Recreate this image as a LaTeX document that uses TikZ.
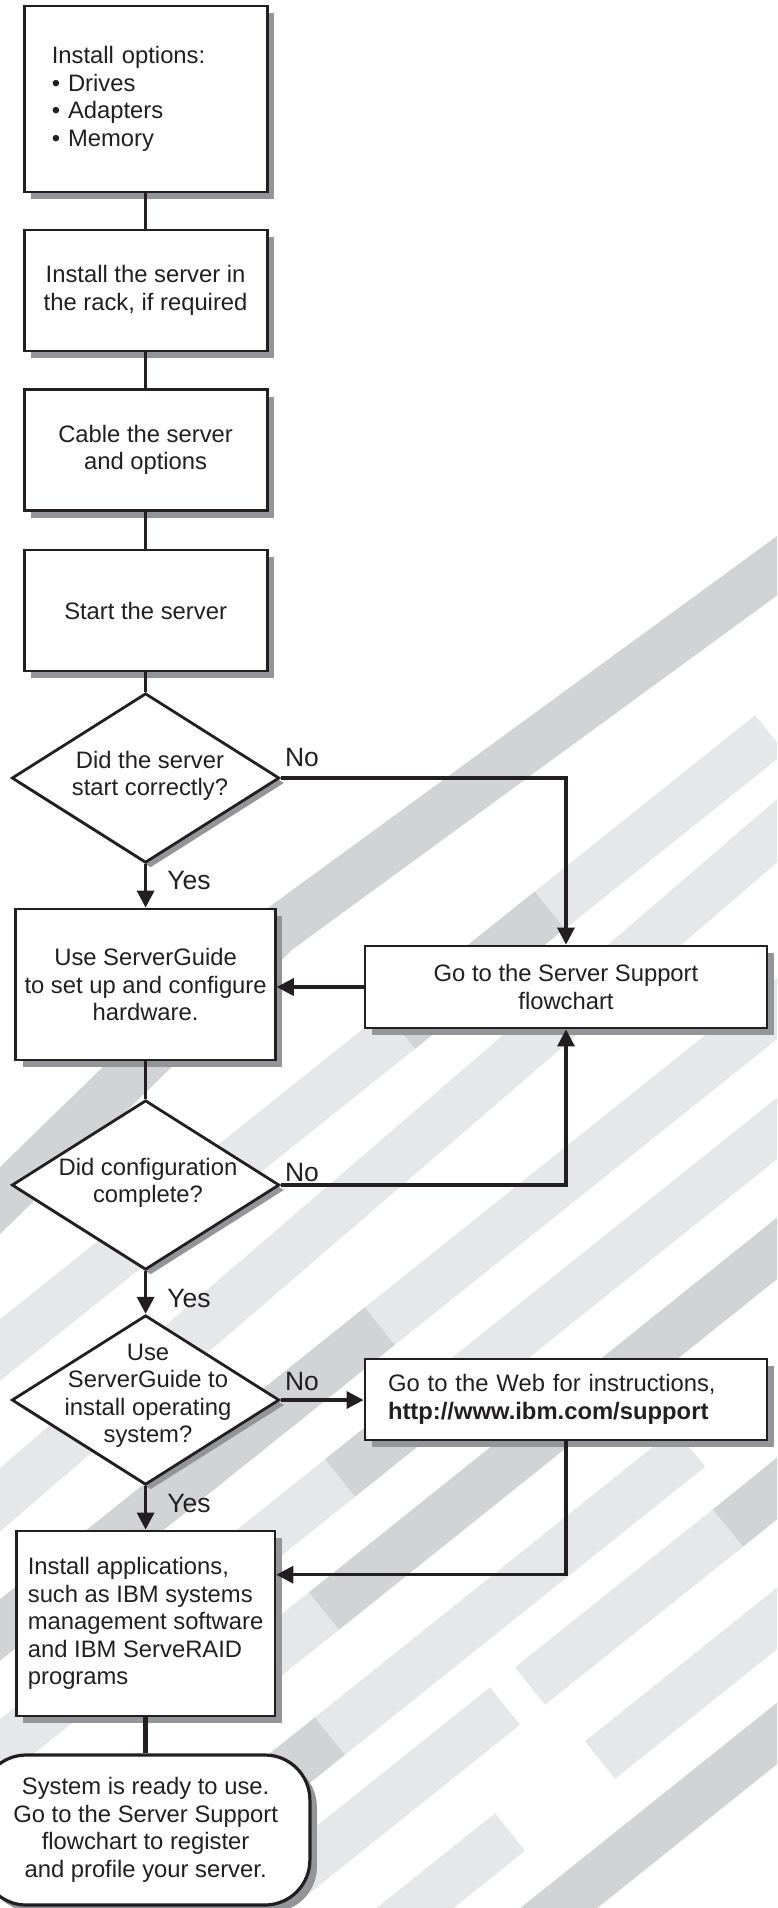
\documentclass[tikz,border=0pt]{standalone}
\usepackage{fontspec}
\setmainfont{Liberation Sans}
\usetikzlibrary{arrows.meta,shapes.geometric}
\definecolor{lg}{HTML}{E6E7E8}
\definecolor{mg}{HTML}{D1D3D4}
\definecolor{shc}{HTML}{939598}
\definecolor{ink}{HTML}{231F20}
\begin{document}
\begin{tikzpicture}[x=1pt,y=-1pt,
  every node/.style={text=ink, font=\fontsize{23.8}{27.5}\selectfont},
  sh/.style={preaction={fill=shc, transform canvas={xshift=7pt,yshift=-7pt}}},
  dsh/.style={preaction={fill=shc, transform canvas={xshift=5pt,yshift=-5pt}}},
  stepbox/.style={rectangle, draw=ink, line width=2.8pt, fill=white, sh, inner sep=0pt, align=center},
  dia/.style={diamond, draw=ink, line width=2.8pt, fill=white, dsh, inner sep=0pt, minimum width=267.6pt, minimum height=169.5pt},
  lbl/.style={inner sep=0pt, align=center},
  yn/.style={inner sep=0pt, font=\fontsize{26.5}{30}\selectfont},
  conn/.style={draw=ink, line width=3.3pt},
  arr/.style={conn, -{Triangle[length=17pt,width=17pt]}},
  band/.style={line width=48pt, line cap=butt, line join=miter}]
\useasboundingbox (0,0) rectangle (777,1908);
% background stripes
\begin{scope}
\clip (0,0) rectangle (777,1908);
\draw[band, mg] (800,549) -- (277,931) -- (-20,1220);
\draw[band, lg] (-20,1366) -- (400,1030);
\draw[band, mg] (400,1030) -- (550,910);
\draw[band, lg] (550,910) -- (770,734);
\draw[band, lg] (800,811) -- (-20,1517);
\draw[band, mg] (-20,1646) -- (380,1326);
\draw[band, lg] (380,1326) -- (800,990);
\draw[band, lg] (-20,1766) -- (340,1478);
\draw[band, mg] (340,1478) -- (440,1398);
\draw[band, lg] (440,1398) -- (800,1110);
\draw[band, lg] (250,1670) -- (324,1611);
\draw[band, mg] (324,1611) -- (800,1230);
\draw[band, mg] (150,1880) -- (330,1736);
\draw[band, lg] (330,1736) -- (690,1448);
\draw[band, lg] (150,1990) -- (505,1706);
\draw[band, lg] (530,1686) -- (728,1528);
\draw[band, mg] (728,1528) -- (800,1470);
\draw[band, lg] (300,2000) -- (510,1832);
\draw[band, lg] (600,1760) -- (800,1600);
\draw[band, mg] (480,1971) -- (800,1715);
\end{scope}
% nodes
\node[stepbox, minimum width=243pt, minimum height=186pt, text width=187.6pt, align=left] (b1) at (145.6,99) {Install options:\\• Drives\\• Adapters\\• Memory};
\node[stepbox, minimum width=243pt, minimum height=121pt] (b2) at (145.6,290.5) {Install the server in\\the rack, if required};
\node[stepbox, minimum width=243pt, minimum height=121pt] (b3) at (145.6,450) {Cable the server\\and options};
\node[stepbox, minimum width=243pt, minimum height=121pt] (b4) at (145.6,610.5) {Start the server};
\node[dia] (d1) at (145.6,778) {};
\node[lbl] (t1) at (150,776) {Did the server\\start correctly?};
\node[stepbox, minimum width=259.5pt, minimum height=151pt] (use) at (145.6,984.5) {Use ServerGuide\\to set up and configure\\hardware.};
\node[stepbox, minimum width=402pt, minimum height=82pt] (ss) at (566,987) {Go to the Server Support\\flowchart};
\node[dia] (d2) at (145.6,1185) {};
\node[lbl] (t2) at (148,1183) {Did configuration\\complete?};
\node[dia] (d3) at (145.6,1400) {};
\node[lbl] (t3) at (148,1396) {Use\\ServerGuide to\\install operating\\system?};
\node[stepbox, minimum width=402pt, minimum height=81pt, text width=356pt, align=left] (web) at (566,1399.5) {Go to the Web for instructions,\\\textbf{http://www.ibm.com/support}};
\node[stepbox, minimum width=258.6pt, minimum height=185pt, align=left] (apps) at (145.6,1623.5) {Install applications,\\such as IBM systems\\management software\\and IBM ServeRAID\\programs};
\node[stepbox, rounded corners=45pt, line width=3.2pt, minimum width=328.6pt, minimum height=150pt] (fin) at (145.6,1830) {System is ready to use.\\Go to the Server Support\\flowchart to register\\and profile your server.};
% labels
\node[yn] (no1) at (302,758) {No};
\node[yn] (yes1) at (189,881) {Yes};
\node[yn] (no2) at (302,1172) {No};
\node[yn] (yes2) at (189,1298) {Yes};
\node[yn] (no3) at (302,1381) {No};
\node[yn] (yes3) at (189,1503) {Yes};
% connectors
\draw[conn] (b1) -- (b2);
\draw[conn] (b2) -- (b3);
\draw[conn] (b3) -- (b4);
\draw[conn] (b4) -- (d1);
\draw[arr] (d1) -- (use);
\draw[arr] (d1.east) -| (ss.north);
\draw[arr] (ss.west) -- (ss.west -| use.east);
\draw[conn] (use) -- (d2);
\draw[arr] (d2.east) -| (ss.south);
\draw[arr] (d2) -- (d3);
\draw[arr] (d3.east) -- (d3.east -| web.west);
\draw[arr] (web.south) |- ([yshift=48.8pt]apps.east);
\draw[arr] (d3) -- (apps);
\draw[conn, line width=4.5pt] (apps) -- (fin);
\end{tikzpicture}
\end{document}
